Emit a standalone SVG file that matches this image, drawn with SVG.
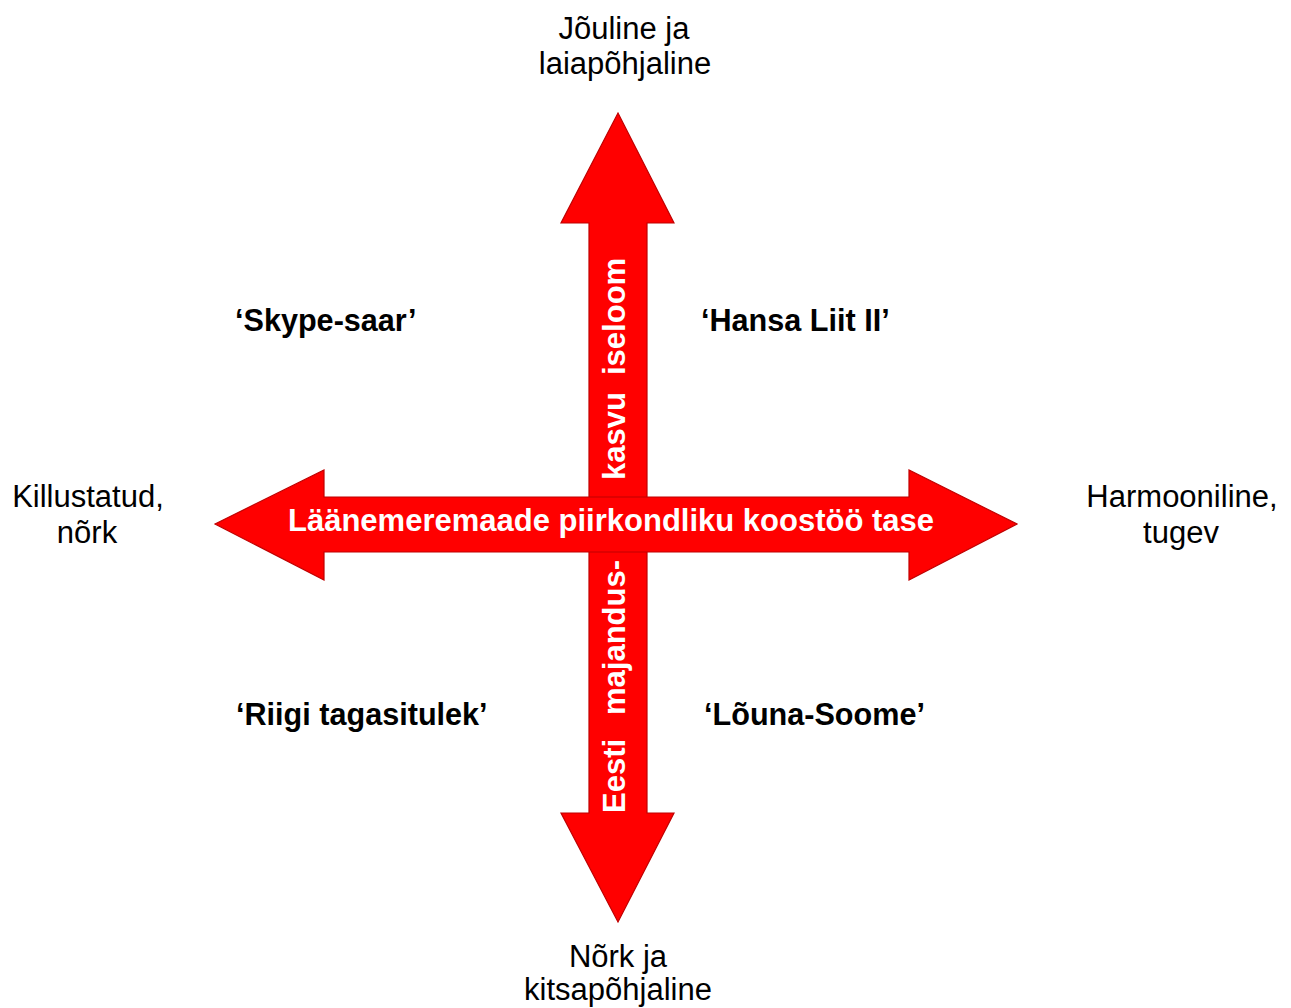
<svg xmlns="http://www.w3.org/2000/svg" width="1291" height="1008" viewBox="0 0 1291 1008">
<style>
.arrow{fill:#ff0000;stroke:#c00000;stroke-width:1.2;stroke-linejoin:miter}
.atext{font-family:"Liberation Sans",Arial,sans-serif;font-weight:bold;font-size:31px;fill:#ffffff}
.quad{font-family:"Liberation Sans",Arial,sans-serif;font-weight:bold;font-size:30.6px;fill:#000000}
.axis{font-family:"Liberation Sans",Arial,sans-serif;font-size:31px;fill:#000000;text-anchor:middle}
</style>
<rect width="1291" height="1008" fill="#ffffff"/>
<g id="connectors">
<path id="vertical-arrow" class="arrow" d="M618,113 L674,223 L647,223 L647,813 L674,813 L618,922 L561,813 L589,813 L589,223 L561,223 Z"/>
<path id="horizontal-arrow" class="arrow" d="M215,524 L324,470 L324,497 L909,497 L909,470 L1017,524 L909,580 L909,552 L324,552 L324,580 Z"/>
</g>
<g id="arrow-labels">
<text class="atext" x="288" y="531">Läänemeremaade piirkondliku koostöö tase</text>
<text class="atext" transform="translate(625,480) rotate(-90)"><tspan x="0">kasvu</tspan><tspan x="105">iseloom</tspan></text>
<text class="atext" transform="translate(625,813) rotate(-90)"><tspan x="0">Eesti</tspan><tspan x="98">majandus-</tspan></text>
</g>
<g id="top-label"><text class="axis" x="624" y="39">Jõuline ja</text><text class="axis" x="625" y="74">laiapõhjaline</text></g>
<g id="bottom-label"><text class="axis" x="618" y="967">Nõrk ja</text><text class="axis" x="618" y="1000">kitsapõhjaline</text></g>
<g id="left-label"><text class="axis" x="88" y="507">Killustatud,</text><text class="axis" x="87" y="543">nõrk</text></g>
<g id="right-label"><text class="axis" x="1182" y="507">Harmooniline,</text><text class="axis" x="1181" y="543">tugev</text></g>
<g id="q-skype"><text class="quad" x="235" y="331">‘Skype-saar’</text></g>
<g id="q-hansa"><text class="quad" x="701" y="331">‘Hansa Liit II’</text></g>
<g id="q-riigi"><text class="quad" x="236" y="725">‘Riigi tagasitulek’</text></g>
<g id="q-louna"><text class="quad" x="704" y="725">‘Lõuna-Soome’</text></g>
</svg>
